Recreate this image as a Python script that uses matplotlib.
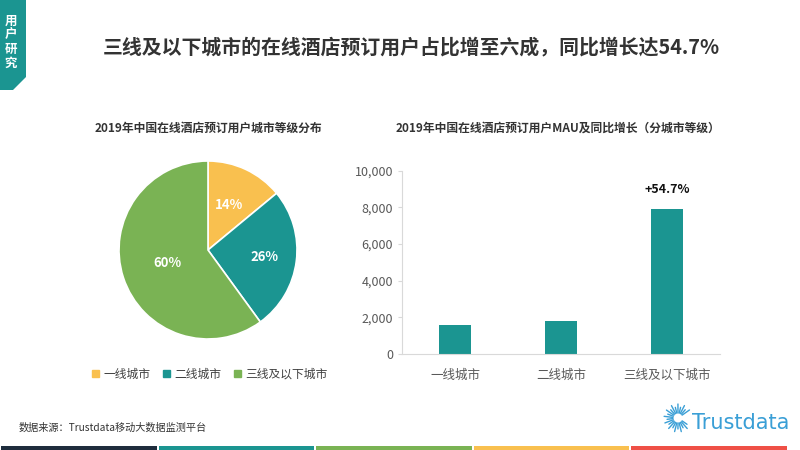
import numpy as np
import matplotlib
matplotlib.use('Agg')
import matplotlib.pyplot as plt
from matplotlib.patches import Polygon, Rectangle, Patch

plt.rcParams['font.family'] = ['Noto Sans CJK SC', 'DejaVu Sans']

# data
pie_labels = ['一线城市', '二线城市', '三线及以下城市']
pie_share = [14, 26, 60]
bar_cities = ['一线城市', '二线城市', '三线及以下城市']
bar_mau = [1600, 1800, 7900]
growth_note = '+54.7%'

yellow = '#F9C04F'
teal = '#1B9591'
green = '#7AB354'
pie_colors = [yellow, teal, green]

fig = plt.figure(figsize=(8, 4.5), dpi=100)

# background / decorations in pixel coords
bg = fig.add_axes([0, 0, 1, 1])
bg.set_xlim(0, 800)
bg.set_ylim(450, 0)
bg.axis('off')

bg.add_patch(Polygon([(0, 0), (26, 0), (26, 77), (13, 90), (0, 90)],
                     closed=True, color=teal, lw=0))
for i, ch in enumerate('用户研究'):
    bg.text(10.5, 21 + i * 14, ch, color='white', fontsize=9, fontweight='bold',
            ha='center', va='center')

stripes = ['#1F2D3D', teal, green, yellow, '#EF5046']
for i, c in enumerate(stripes):
    bg.add_patch(Rectangle((i * 157.5 + 1, 446), 155.5, 4, color=c, lw=0))

bg.text(411, 47, '三线及以下城市的在线酒店预订用户占比增至六成，同比增长达54.7%',
        fontsize=14.3, fontweight='bold', color='#333333', ha='center', va='center')
bg.text(208, 128, '2019年中国在线酒店预订用户城市等级分布',
        fontsize=8.5, fontweight='bold', color='#333333', ha='center', va='center')
bg.text(558, 128, '2019年中国在线酒店预订用户MAU及同比增长（分城市等级）',
        fontsize=8.5, fontweight='bold', color='#333333', ha='center', va='center')
bg.text(19, 428, '数据来源：Trustdata移动大数据监测平台',
        fontsize=7.3, color='#333333', ha='left', va='center')

# logo
cx, cy = 678, 418
for k, a in enumerate(np.linspace(35, 325, 22)):
    r1 = 5
    r2 = 14 if k % 2 == 0 else 11
    t = np.radians(a)
    bg.plot([cx + r1 * np.cos(t), cx + r2 * np.cos(t)],
            [cy - r1 * np.sin(t), cy - r2 * np.sin(t)],
            color='#3A9FD6', lw=1.0, solid_capstyle='round')
bg.text(692, 423, 'Trustdata', fontsize=15, color='#3A9FD6',
        ha='left', va='center', family='DejaVu Sans')

# pie
ax1 = fig.add_axes([119 / 800, 111 / 450, 178 / 800, 178 / 450])
wedges, texts, autotexts = ax1.pie(pie_share, colors=pie_colors, startangle=90,
                                   counterclock=False, autopct='%d%%', pctdistance=0.6,
                                   wedgeprops=dict(edgecolor='white', linewidth=1.2),
                                   textprops=dict(color='white', fontsize=9.5, fontweight='bold'))
# nudge percentage labels like the original
label_dist = [0.56, 0.64, 0.48]
for w, t, d in zip(wedges, autotexts, label_dist):
    mid = np.radians((w.theta1 + w.theta2) / 2)
    t.set_position((d * np.cos(mid), d * np.sin(mid)))
ax1.set_xlim(-1, 1)
ax1.set_ylim(-1, 1)
ax1.set_aspect('equal')

handles = [Patch(color=c, label=l) for c, l in zip(pie_colors, pie_labels)]
fig.legend(handles=handles, loc='center', bbox_to_anchor=(210 / 800, 1 - 374 / 450),
           ncol=3, frameon=False, fontsize=8.5, handlelength=0.55, handleheight=0.55,
           handletextpad=0.4, columnspacing=1.1, labelcolor='#404040')

# bars
ax2 = fig.add_axes([402 / 800, 96 / 450, 318 / 800, 183.3 / 450])
x = np.arange(len(bar_cities))
ax2.bar(x, bar_mau, width=0.31, color=teal)
ax2.set_xlim(-0.5, 2.5)
ax2.set_ylim(0, 10000)
ax2.set_yticks(range(0, 10001, 2000))
ax2.set_yticklabels([f'{v:,}' for v in range(0, 10001, 2000)])
ax2.set_xticks(x)
ax2.set_xticklabels(bar_cities)
for s in ['top', 'right']:
    ax2.spines[s].set_visible(False)
for s in ['left', 'bottom']:
    ax2.spines[s].set_color('#D9D9D9')
ax2.tick_params(axis='y', colors='#D9D9D9', labelcolor='#595959', labelsize=9, length=3)
ax2.tick_params(axis='x', length=0, labelcolor='#595959', labelsize=9, pad=11)
ax2.text(x[-1], bar_mau[-1] + 1100, growth_note, ha='center', va='center',
         fontsize=9, fontweight='bold', color='#111111')

fig.savefig('out.png', dpi=100)
